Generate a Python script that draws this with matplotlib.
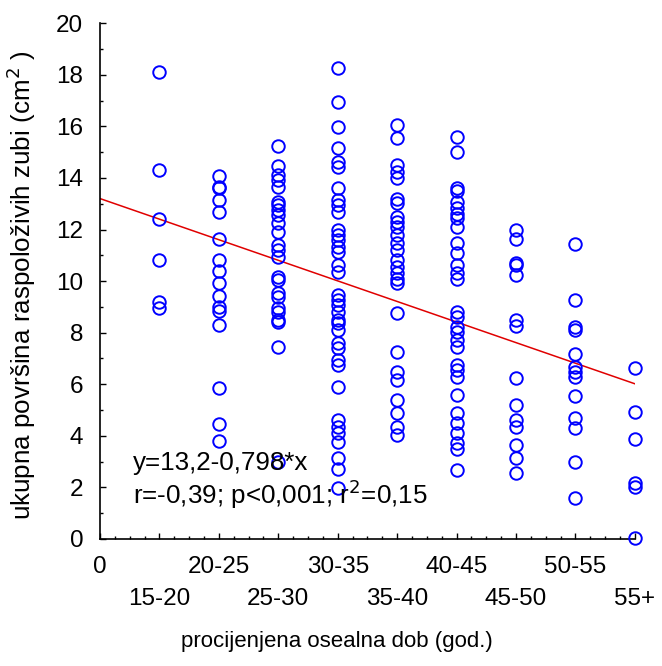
import numpy as np
import matplotlib.pyplot as plt
from matplotlib.ticker import MultipleLocator

plt.rcParams["font.family"] = ["Liberation Sans", "DejaVu Sans"]

# age groups (x position 1..9 on the axis)
groups = ["15-20", "20-25", "25-30", "30-35", "35-40", "40-45", "45-50", "50-55", "55+"]
tick_labels = ["0", "15-20", "20-25", "25-30", "30-35", "35-40", "40-45", "45-50", "50-55", "55+"]

# total area of available teeth (cm2) per group
g_15_20 = [18.1, 14.3, 12.4, 10.8, 9.2, 8.95]
g_20_25 = [14.08, 13.65, 13.59, 13.16, 12.66, 11.63, 10.81, 10.41, 9.93, 9.42,
           8.98, 8.85, 8.29, 5.84, 4.46, 3.81]
g_25_30 = [15.24, 14.47, 14.11, 13.91, 13.66, 13.07, 12.95, 12.75, 12.56, 12.24,
           11.91, 11.4, 11.2, 10.94, 10.17, 10.04, 9.52, 9.39, 8.94, 8.81,
           8.49, 8.42, 7.43, 3.0]
g_30_35 = [18.27, 16.95, 15.98, 15.17, 14.62, 14.41, 13.62, 13.14, 12.95, 12.69,
           11.98, 11.78, 11.59, 11.33, 11.14, 10.62, 10.36, 9.46, 9.26, 9.07,
           8.81, 8.49, 8.36, 8.1, 7.59, 7.39, 6.94, 6.74, 5.9, 4.61,
           4.35, 4.1, 3.77, 3.13, 2.73, 1.97]
g_35_40 = [16.05, 15.53, 14.5, 14.24, 13.98, 13.2, 13.01, 12.49, 12.3, 12.1,
           11.78, 11.46, 11.2, 10.81, 10.55, 10.3, 10.1, 9.91, 8.75, 7.26,
           6.48, 6.16, 5.39, 4.87, 4.35, 4.03]
g_40_45 = [15.59, 15.01, 13.59, 13.5, 13.07, 12.82, 12.62, 12.43, 12.1, 11.46,
           11.07, 10.62, 10.3, 10.1, 8.81, 8.62, 8.23, 8.03, 7.71, 7.45,
           6.74, 6.55, 6.29, 5.58, 4.87, 4.48, 4.1, 3.71, 3.5, 2.67]
g_45_50 = [12.0, 11.65, 10.72, 10.62, 10.23, 8.49, 8.26, 6.23, 5.19, 4.61,
           4.35, 3.64, 3.13, 2.57]
g_50_55 = [11.43, 9.26, 8.23, 8.1, 7.17, 6.68, 6.48, 6.29, 5.54, 4.68,
           4.29, 3.0, 1.58]
g_55 = [6.64, 4.93, 3.86, 2.16, 2.0, 0.05]

values = [g_15_20, g_20_25, g_25_30, g_30_35, g_35_40, g_40_45, g_45_50, g_50_55, g_55]

# regression from the paper
intercept = 13.2
slope = -0.798

fs = 16
fs_tick = 17.5
fs_big = 18.7

fig = plt.figure(figsize=(6.62, 6.66), dpi=100)
ax = fig.add_axes([0.151, 0.1907, 0.808, 0.7745])

for i, vals in enumerate(values):
    ax.plot(np.full(len(vals), i + 1), vals, "o", mfc="none", mec="#0000ff",
            ms=9, mew=1.4, clip_on=False, zorder=3)

xs = np.array([0, 9])
ax.plot(xs, intercept + slope * xs, color="#e00000", lw=1.1, zorder=2)

ax.set_xlim(0, 9)
ax.set_ylim(0, 20)
ax.spines["top"].set_visible(False)
ax.spines["right"].set_visible(False)
ax.spines["left"].set_linewidth(1.2)
ax.spines["bottom"].set_linewidth(1.2)

ax.xaxis.set_major_locator(MultipleLocator(1))
ax.xaxis.set_minor_locator(MultipleLocator(0.25))
ax.yaxis.set_major_locator(MultipleLocator(2))
ax.yaxis.set_minor_locator(MultipleLocator(1))
ax.tick_params(which="both", direction="in", width=1)
ax.tick_params(which="major", length=4)
ax.tick_params(which="minor", length=2)
ax.tick_params(axis="y", labelsize=fs_tick, pad=12)

# alternate x tick labels on two rows
ax.set_xticks(range(10))
ax.set_xticklabels(["" for _ in range(10)])
for i, lab in enumerate(tick_labels):
    yoff = -20 if i % 2 == 0 else -43
    ax.annotate(lab, xy=(i, 0), xycoords="data", xytext=(0, yoff),
                textcoords="offset points", ha="center", va="center",
                fontsize=fs_tick, annotation_clip=False)

fig.text(337 / 662, 1 - 641 / 666, "procijenjena osealna dob (god.)",
         fontsize=fs, ha="center", va="center")
fig.text(21 / 662, 1 - 285 / 666, "ukupna površina raspoloživih zubi (cm$^2$ )",
         fontsize=fs_big, ha="center", va="center", rotation=90)

ax.text(0.062, 0.147, "y=13,2-0,798*x", transform=ax.transAxes, fontsize=fs_big, va="center")
ax.text(0.062, 0.087, "r=-0,39; p<0,001; r$^2$=0,15", transform=ax.transAxes,
        fontsize=fs_big, va="center")

fig.savefig("out.png", dpi=100)
